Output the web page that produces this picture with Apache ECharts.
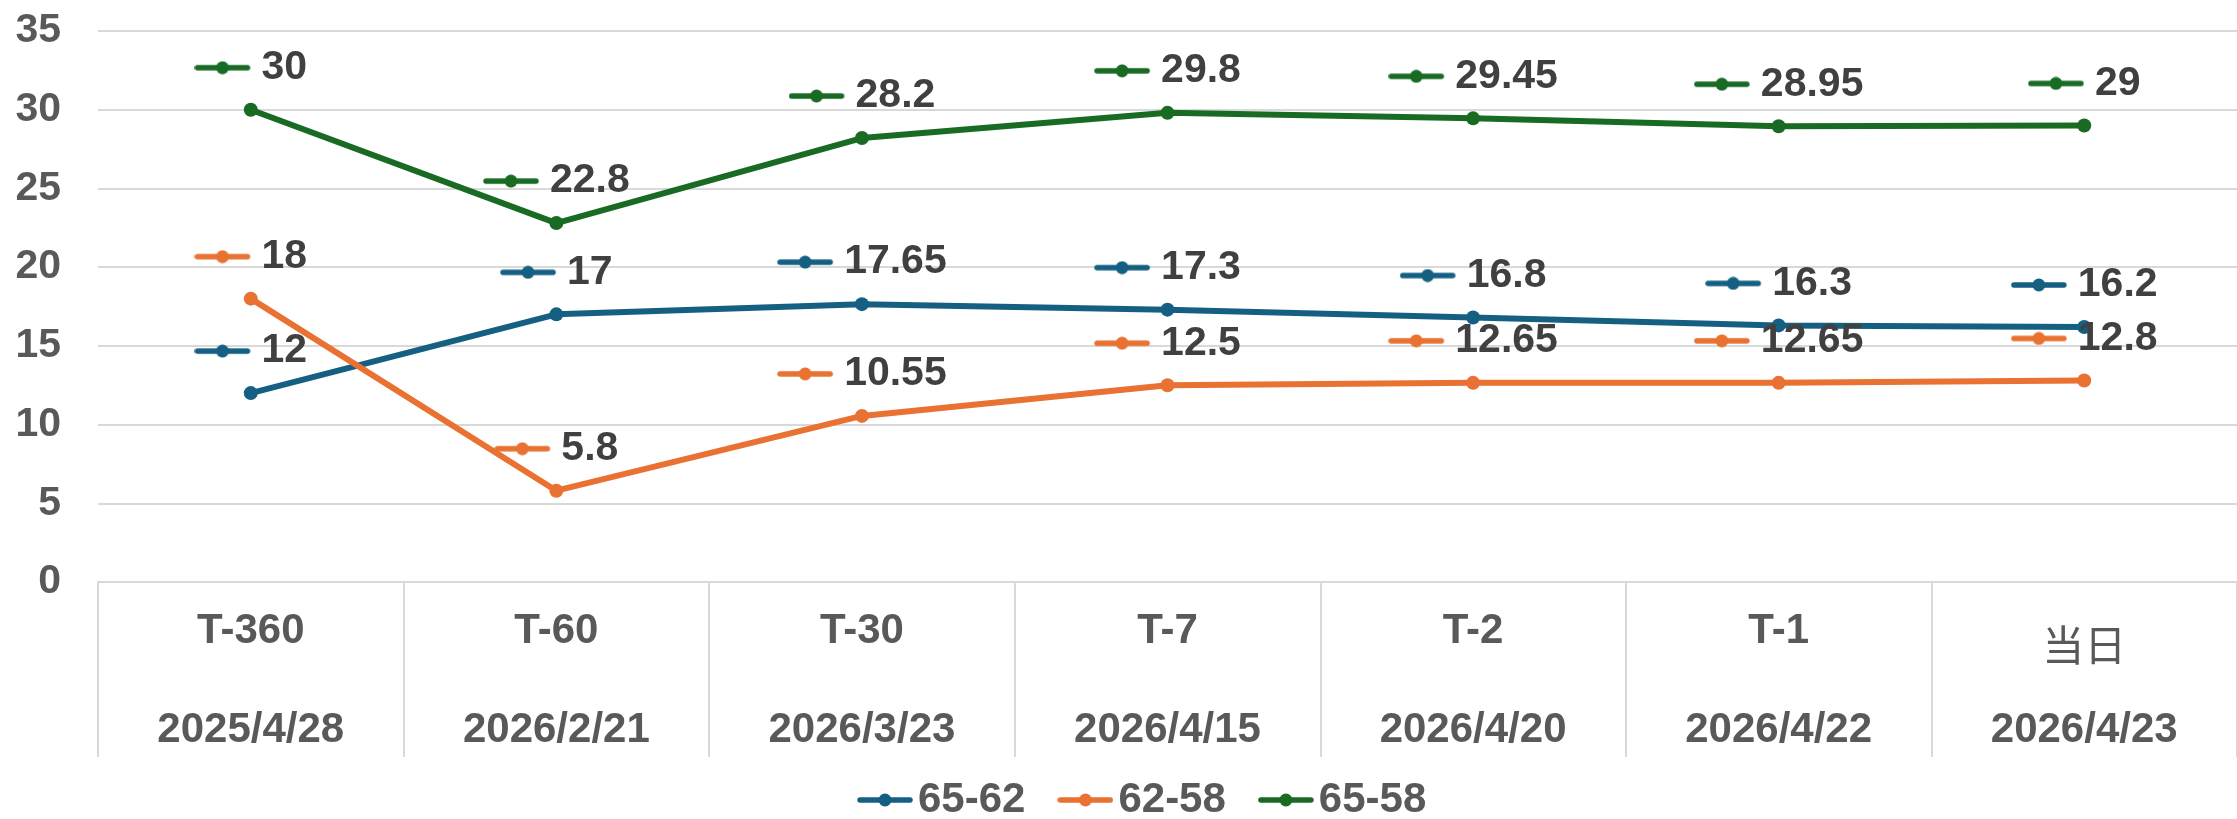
<!DOCTYPE html>
<html>
<head>
<meta charset="utf-8">
<script src="https://cdn.jsdelivr.net/npm/echarts@6/dist/echarts.min.js"></script>
<style>
  html, body { margin: 0; padding: 0; background: #fff; }
  #main { width: 2237px; height: 819px; }
</style>
</head>
<body>
<div id="main"></div>
<script>
var catTop = ['T-360', 'T-60', 'T-30', 'T-7', 'T-2', 'T-1', '当日'];
var catDate = ['2025/4/28', '2026/2/21', '2026/3/23', '2026/4/15', '2026/4/20', '2026/4/22', '2026/4/23'];
var seriesNames = ['65-62', '62-58', '65-58'];
var s6562 = [12, 17, 17.65, 17.3, 16.8, 16.3, 16.2];
var s6258 = [18, 5.8, 10.55, 12.5, 12.65, 12.65, 12.8];
var s6558 = [30, 22.8, 28.2, 29.8, 29.45, 28.95, 29];
var colors = ['#156082', '#E97132', '#196B24'];

var FONT = "'Liberation Sans', Arial, sans-serif";

// little line+dot key, like the Excel legend key
function makeKey(color, w) {
    var c = document.createElement('canvas');
    c.width = w;
    c.height = 14;
    var ctx = c.getContext('2d');
    ctx.strokeStyle = color;
    ctx.lineWidth = 5.5;
    ctx.lineCap = 'round';
    ctx.beginPath();
    ctx.moveTo(3, 7);
    ctx.lineTo(53, 7);
    ctx.stroke();
    ctx.fillStyle = color;
    ctx.beginPath();
    ctx.arc(28, 7, 6.5, 0, Math.PI * 2);
    ctx.fill();
    return c;
}

function makeSeries(name, data, color) {
    return {
        name: name,
        type: 'line',
        data: data,
        symbol: 'circle',
        symbolSize: 14,
        itemStyle: { color: color },
        lineStyle: { color: color, width: 6 },
        label: {
            show: true,
            position: 'top',
            distance: 15,
            formatter: function (p) { return '{k|}{v|' + p.value + '}'; },
            rich: {
                k: { width: 67, height: 14, backgroundColor: { image: makeKey(color, 67) } },
                v: { fontSize: 41, fontWeight: 'bold', fontFamily: FONT, color: '#404040', lineHeight: 40 }
            }
        }
    };
}

var legendData = seriesNames.map(function (n, i) {
    return { name: n, icon: 'image://' + makeKey(colors[i], 56).toDataURL() };
});

var option = {
    backgroundColor: '#ffffff',
    animation: false,
    grid: { left: 98, top: 31, width: 2147, height: 551 },
    legend: {
        data: legendData,
        left: 852,
        top: 774,
        itemWidth: 56,
        itemHeight: 14,
        itemGap: 32,
        textStyle: { fontSize: 42, fontWeight: 'bold', fontFamily: FONT, color: '#595959' }
    },
    xAxis: {
        type: 'category',
        data: catTop,
        boundaryGap: true,
        axisLine: { lineStyle: { color: '#d9d9d9', width: 2 } },
        axisTick: { show: true, length: 175, lineStyle: { color: '#d9d9d9', width: 2 } },
        axisLabel: {
            margin: 0,
            interval: 0,
            formatter: function (value, index) {
                if (value === '当日') {
                    return '{c|' + value + '}\n{d|' + catDate[index] + '}';
                }
                return '{a|' + value + '}\n{b|' + catDate[index] + '}';
            },
            rich: {
                a: { fontSize: 42, fontWeight: 'bold', fontFamily: FONT, color: '#595959', lineHeight: 99 },
                b: { fontSize: 42, fontWeight: 'bold', fontFamily: FONT, color: '#595959', lineHeight: 99 },
                c: { fontSize: 42, fontWeight: 'normal', fontFamily: "'Noto Sans CJK SC', sans-serif", color: '#595959', lineHeight: 127 },
                d: { fontSize: 42, fontWeight: 'bold', fontFamily: FONT, color: '#595959', lineHeight: 43 }
            }
        }
    },
    yAxis: {
        type: 'value',
        min: 0,
        max: 35,
        interval: 5,
        axisLine: { show: false },
        axisTick: { show: false },
        splitLine: { lineStyle: { color: '#d9d9d9', width: 2 } },
        axisLabel: { margin: 37, fontSize: 41, fontWeight: 'bold', fontFamily: FONT, color: '#595959' }
    },
    series: [
        makeSeries(seriesNames[0], s6562, colors[0]),
        makeSeries(seriesNames[1], s6258, colors[1]),
        makeSeries(seriesNames[2], s6558, colors[2])
    ]
};

var myChart = echarts.init(document.getElementById('main'));
myChart.setOption(option);
</script>
</body>
</html>
